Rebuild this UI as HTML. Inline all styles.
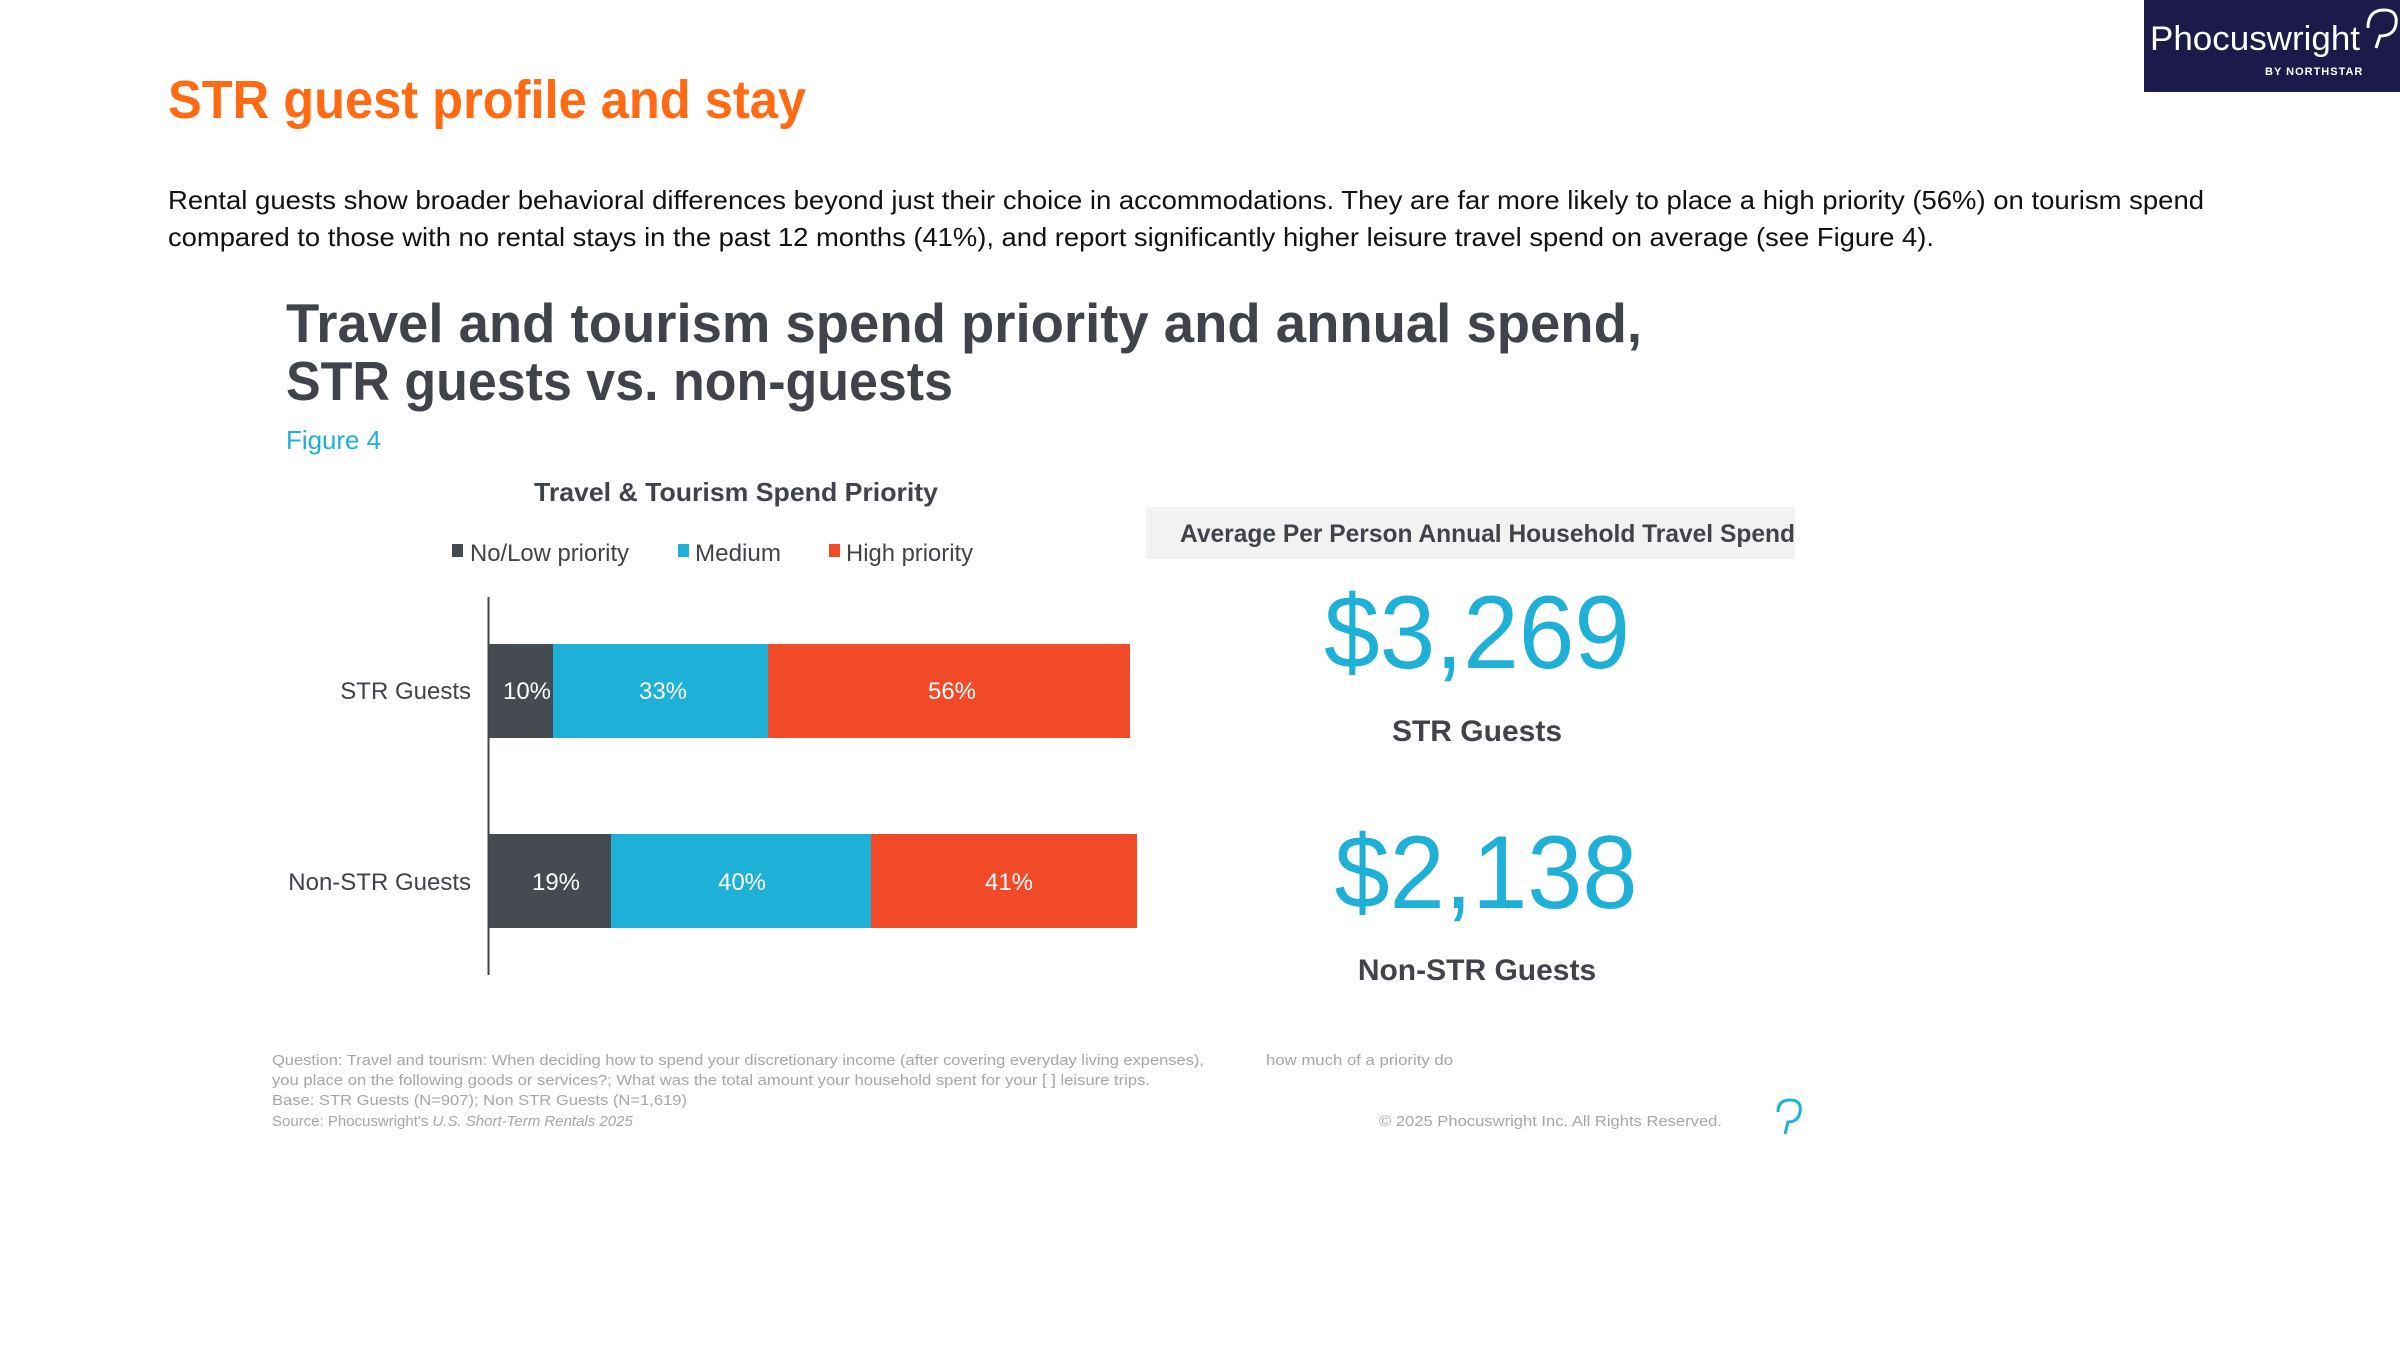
<!DOCTYPE html>
<html><head><meta charset="utf-8"><style>html,body{margin:0;padding:0;background:#fff}svg{display:block}</style></head>
<body>
<svg width="2400" height="1350" viewBox="0 0 2400 1350" xmlns="http://www.w3.org/2000/svg" font-family="Liberation Sans, Arial, sans-serif">
<rect width="2400" height="1350" fill="#fff"/>
<rect x="2144" y="0" width="256" height="92" fill="#1b1a4a"/>
<text x="2150" y="50" font-size="34" fill="#fff" textLength="210" lengthAdjust="spacingAndGlyphs">Phocuswright</text>
<path d="M2368 28 q0 -18 16 -18 q14 0 12 14 q-2 12 -16 12 l-4 12" fill="none" stroke="#fff" stroke-width="3"/>
<text x="2265" y="75" font-size="11" fill="#fff" font-weight="bold" letter-spacing="1">BY NORTHSTAR</text>

<text x="168" y="118" font-size="54" font-weight="bold" fill="#ff6a13" textLength="638" lengthAdjust="spacingAndGlyphs">STR guest profile and stay</text>
<text x="168" y="209" font-size="26" fill="#111" textLength="2036" lengthAdjust="spacingAndGlyphs">Rental guests show broader behavioral differences beyond just their choice in accommodations. They are far more likely to place a high priority (56%) on tourism spend</text>
<text x="168" y="246" font-size="26" fill="#111" textLength="1766" lengthAdjust="spacingAndGlyphs">compared to those with no rental stays in the past 12 months (41%), and report significantly higher leisure travel spend on average (see Figure 4).</text>

<text x="286" y="342" font-size="55" font-weight="bold" fill="#404349" textLength="1356" lengthAdjust="spacingAndGlyphs">Travel and tourism spend priority and annual spend,</text>
<text x="286" y="400" font-size="55" font-weight="bold" fill="#404349" textLength="667" lengthAdjust="spacingAndGlyphs">STR guests vs. non-guests</text>
<text x="286" y="449" font-size="26" fill="#1fb0d8" textLength="95" lengthAdjust="spacingAndGlyphs">Figure 4</text>

<text x="534" y="501" font-size="26" font-weight="bold" fill="#404349" textLength="404" lengthAdjust="spacingAndGlyphs">Travel &amp; Tourism Spend Priority</text>
<rect x="452" y="544" width="11" height="13" fill="#454b51"/>
<text x="470" y="561" font-size="24" fill="#404349" textLength="159" lengthAdjust="spacingAndGlyphs">No/Low priority</text>
<rect x="678" y="544" width="11" height="13" fill="#1fb0d8"/>
<text x="695" y="561" font-size="24" fill="#404349" textLength="86" lengthAdjust="spacingAndGlyphs">Medium</text>
<rect x="829" y="544" width="11" height="13" fill="#f04a28"/>
<text x="846" y="561" font-size="24" fill="#404349" textLength="127" lengthAdjust="spacingAndGlyphs">High priority</text>

<rect x="1146" y="507" width="649" height="52" fill="#f2f2f2"/>
<text x="1180" y="542" font-size="25" font-weight="bold" fill="#404349" textLength="615" lengthAdjust="spacingAndGlyphs">Average Per Person Annual Household Travel Spend</text>

<line x1="488.5" y1="597" x2="488.5" y2="975" stroke="#404349" stroke-width="2"/>
<rect x="489" y="644" width="64" height="94" fill="#454b51"/>
<rect x="553" y="644" width="215" height="94" fill="#1fb0d8"/>
<rect x="768" y="644" width="362" height="94" fill="#f04a28"/>
<rect x="489" y="834" width="122" height="94" fill="#454b51"/>
<rect x="611" y="834" width="260" height="94" fill="#1fb0d8"/>
<rect x="871" y="834" width="266" height="94" fill="#f04a28"/>
<g font-size="24" fill="#fff" text-anchor="middle">
<text x="527" y="699">10%</text><text x="663" y="699">33%</text><text x="952" y="699">56%</text>
<text x="556" y="890">19%</text><text x="742" y="890">40%</text><text x="1009" y="890">41%</text>
</g>
<g font-size="24" fill="#404349" text-anchor="end">
<text x="471" y="699">STR Guests</text>
<text x="471" y="890">Non-STR Guests</text>
</g>

<text x="1477" y="668" font-size="104" fill="#1fb0d8" text-anchor="middle" textLength="306" lengthAdjust="spacingAndGlyphs">$3,269</text>
<text x="1477" y="741" font-size="30" font-weight="bold" fill="#404349" text-anchor="middle">STR Guests</text>
<text x="1486" y="908" font-size="104" fill="#1fb0d8" text-anchor="middle" textLength="303" lengthAdjust="spacingAndGlyphs">$2,138</text>
<text x="1477" y="980" font-size="30" font-weight="bold" fill="#404349" text-anchor="middle">Non-STR Guests</text>

<g font-size="15" fill="#a6a6a6">
<text x="272" y="1065" textLength="932" lengthAdjust="spacingAndGlyphs">Question: Travel and tourism: When deciding how to spend your discretionary income (after covering everyday living expenses),</text>
<text x="1266" y="1065" textLength="187" lengthAdjust="spacingAndGlyphs">how much of a priority do</text>
<text x="272" y="1085" textLength="878" lengthAdjust="spacingAndGlyphs">you place on the following goods or services?; What was the total amount your household spent for your [ ] leisure trips.</text>
<text x="272" y="1105" textLength="415" lengthAdjust="spacingAndGlyphs">Base: STR Guests (N=907); Non STR Guests (N=1,619)</text>
<text x="272" y="1126">Source: Phocuswright's <tspan font-style="italic">U.S. Short-Term Rentals 2025</tspan></text>
<text x="1379" y="1126" textLength="343" lengthAdjust="spacingAndGlyphs">© 2025 Phocuswright Inc. All Rights Reserved.</text>
</g>
<path d="M1778 1112 q0 -12 12 -12 q12 0 10 12 q-2 10 -12 10 l-3 12" fill="none" stroke="#1fb0d8" stroke-width="3"/>
</svg>
</body></html>
